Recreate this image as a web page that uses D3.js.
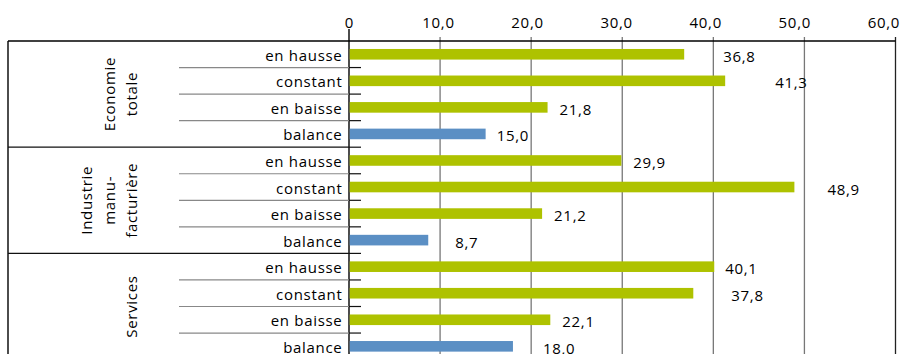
<!DOCTYPE html>
<html>
<head>
<meta charset="utf-8">
<script src="https://cdn.jsdelivr.net/npm/d3@7/dist/d3.min.js"></script>
<style>
  html, body { margin: 0; padding: 0; background: #fff; }
  svg { display: block; font-family: "Open Sans", "Noto Sans", sans-serif; }
  svg text { font-size: 15px; letter-spacing: 0.7px; fill: #000; }
</style>
</head>
<body>
<div id="chart"></div>
<script>
// Sector groups, each with four answer categories
const groups = [
  ["Economie", "totale"],
  ["Industrie", "manu-", "facturière"],
  ["Services"]
];
const categories = ["en hausse", "constant", "en baisse", "balance"];
// Percentages per group, in the order of the categories
const economieTotale = [36.8, 41.3, 21.8, 15.0];
const industrieManufacturiere = [29.9, 48.9, 21.2, 8.7];
const services = [40.1, 37.8, 22.1, 18.0];
const tickValues = [0, 10, 20, 30, 40, 50, 60];
// Hand-placed offsets of the value labels from the bar ends (px)
const labelGap = [39, 50, 12, 11, 12, 33, 12, 27, 11, 38, 12, 30];

const seriesByGroup = [economieTotale, industrieManufacturiere, services];
const rows = [];
seriesByGroup.forEach((vals, g) => {
  vals.forEach((v, i) => {
    rows.push({ id: g + "-" + i, group: g, cat: categories[i], value: v, first: i === 0 });
  });
});

const W = 902, H = 354;
const frameLeft = 8, axisX = 349, frameRight = 895.5, frameTop = 41, rowStep = 26.55;
const barH = 10.6;
const green = "#aec200", blue = "#5b8fc4";
const fmt = v => d3.format(".1f")(v).replace(".", ",");

const svg = d3.select("#chart").append("svg").attr("width", W).attr("height", H);

const x = d3.scaleLinear().domain([0, 60]).range([axisX, frameRight]);
const y = d3.scaleBand().domain(rows.map(d => d.id))
  .range([frameTop, frameTop + rows.length * rowStep]).padding(0);

// vertical grid lines and axis
svg.append("g").selectAll("line").data(tickValues).join("line")
  .attr("x1", d => x(d)).attr("x2", d => x(d))
  .attr("y1", d => d === 0 ? 29 : 37).attr("y2", H)
  .attr("stroke", d => d === 0 ? "#000" : (d === 60 ? "#222" : "#777"))
  .attr("stroke-width", d => d === 0 ? 1.4 : 1.3);

// tick labels along the top
svg.append("g").selectAll("text").data(tickValues).join("text")
  .attr("x", d => x(d) - d * 0.2 + 0.4)
  .attr("y", 28)
  .attr("text-anchor", "middle")
  .text(d => d === 0 ? "0" : fmt(d));

// frame: top line and left border
svg.append("line").attr("x1", frameLeft).attr("x2", frameRight).attr("y1", frameTop).attr("y2", frameTop)
  .attr("stroke", "#000").attr("stroke-width", 1.3);
svg.append("line").attr("x1", frameLeft).attr("x2", frameLeft).attr("y1", frameTop).attr("y2", H)
  .attr("stroke", "#000").attr("stroke-width", 1.4);

// row separators (grey within a group, black between groups) and axis ticks
const seps = rows.slice(1).map(d => ({ y: y(d.id), groupStart: d.first }));
svg.append("g").selectAll("line").data(seps).join("line")
  .attr("x1", d => d.groupStart ? frameLeft : 179).attr("x2", axisX)
  .attr("y1", d => d.y).attr("y2", d => d.y)
  .attr("stroke", d => d.groupStart ? "#111" : "#888").attr("stroke-width", 1.2);
svg.append("g").selectAll("line").data(seps).join("line")
  .attr("x1", axisX).attr("x2", axisX + 12)
  .attr("y1", d => d.y).attr("y2", d => d.y)
  .attr("stroke", "#111").attr("stroke-width", 1.2);

// bars
svg.append("g").selectAll("rect").data(rows).join("rect")
  .attr("x", x(0) + 0.7)
  .attr("y", d => y(d.id) + (y.bandwidth() - barH) / 2)
  .attr("width", d => x(d.value) - x(0) - 0.7)
  .attr("height", barH)
  .attr("fill", d => d.cat === "balance" ? blue : green);

// value labels
svg.append("g").selectAll("text").data(rows).join("text")
  .attr("x", (d, i) => x(d.value) + labelGap[i])
  .attr("y", d => y(d.id) + y.bandwidth() / 2 + 7.5)
  .text(d => fmt(d.value));

// category labels
svg.append("g").selectAll("text").data(rows).join("text")
  .attr("x", 342.5)
  .attr("y", d => y(d.id) + y.bandwidth() / 2 + 6.5)
  .attr("text-anchor", "end")
  .text(d => d.cat);

// rotated group labels
groups.forEach((lines, g) => {
  const y0 = y(rows[g * 4].id);
  const y1 = y(rows[g * 4 + 3].id) + y.bandwidth();
  const cy = (y0 + y1) / 2;
  const t = svg.append("text")
    .attr("transform", `translate(137,${cy}) rotate(-90)`)
    .attr("text-anchor", "middle");
  lines.forEach((ln, k) => {
    t.append("tspan").attr("x", 0).attr("y", -(lines.length - 1 - k) * 22.5).text(ln);
  });
});
</script>
</body>
</html>
